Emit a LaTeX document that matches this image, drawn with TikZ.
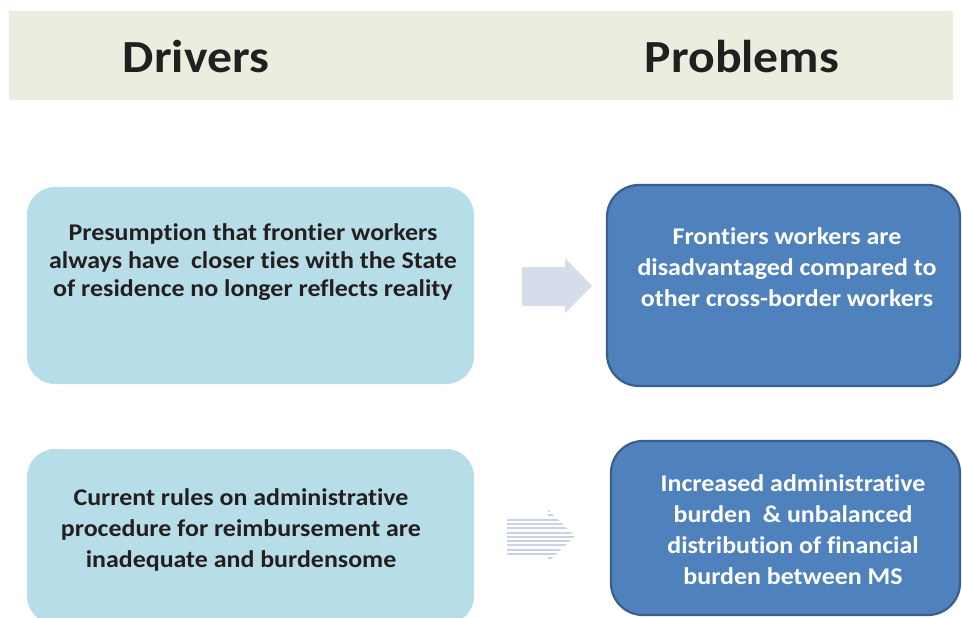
\documentclass[tikz,border=0pt]{standalone}
\usepackage{fontspec}
\setmainfont{Carlito}[FakeStretch=1.08, RawFeature=-liga]
\begin{document}
\begin{tikzpicture}[x=1pt,y=-1pt,
  hdr/.style={font=\fontsize{46}{50}\selectfont\bfseries, text=txtdark},
  lightbox/.style={draw=none, fill=lightblue, rounded corners=28pt},
  darkbox/.style={draw=borderblue, line width=2.2pt, fill=darkblue, rounded corners=32pt},
  ltxt/.style={align=center, text=txtdark, font=\fontsize{24}{28}\selectfont\bfseries},
  dtxt/.style={align=center, text=white, font=\fontsize{24}{31}\selectfont\bfseries},
]
\definecolor{hdrbg}{HTML}{EAEEDF}
\definecolor{lightblue}{HTML}{B7DEE8}
\definecolor{darkblue}{HTML}{4F81BD}
\definecolor{borderblue}{HTML}{3A5F8B}
\definecolor{txtdark}{HTML}{231F20}
\definecolor{arrowfill}{HTML}{D5DDEA}
\definecolor{stripe}{HTML}{C9D3E6}
\useasboundingbox (0,0) rectangle (962,618);
\clip (0,0) rectangle (962,618);
\fill[white] (0,0) rectangle (962,618);
% header band
\fill[hdrbg] (9,11) rectangle (953,100);
\node[hdr] (drivers) at (196,57) {Drivers};
\node[hdr] (problems) at (742,57) {Problems};
% boxes
\draw[lightbox] (27,187) rectangle (474,384);
\draw[darkbox] (607,185) rectangle (960,386);
\draw[lightbox] (27,449) rectangle (474,624);
\draw[darkbox] (611,441) rectangle (960,615);
% texts
\node[ltxt] (d1) at (253,262) {Presumption that frontier workers\\always have\ \ closer ties with the State\\of residence no longer reflects reality};
\node[dtxt] (p1) at (787,267) {Frontiers workers are\\disadvantaged compared to\\other cross-border workers};
\node[ltxt, font=\fontsize{24}{31}\selectfont\bfseries] (d2) at (241,530) {Current rules on administrative\\procedure for reimbursement are\\inadequate and burdensome};
\node[dtxt] (p2) at (793,530) {Increased administrative\\burden\ \ \& unbalanced\\distribution of financial\\burden between MS};
% arrow 1 (solid block arrow)
\fill[arrowfill] (522,267) -- (565,267) -- (565,258) -- (592,286) -- (565,313) -- (565,306) -- (522,306) -- cycle;
% arrow 2 (striped block arrow)
\begin{scope}
\clip (507,518) -- (548,518) -- (548,510) -- (575,536) -- (548,562) -- (548,555) -- (507,555) -- cycle;
\foreach \yy in {511,515.3,...,562} {
  \draw[stripe, line width=2pt] (505,\yy) -- (578,\yy);
}
\end{scope}
\end{tikzpicture}
\end{document}
